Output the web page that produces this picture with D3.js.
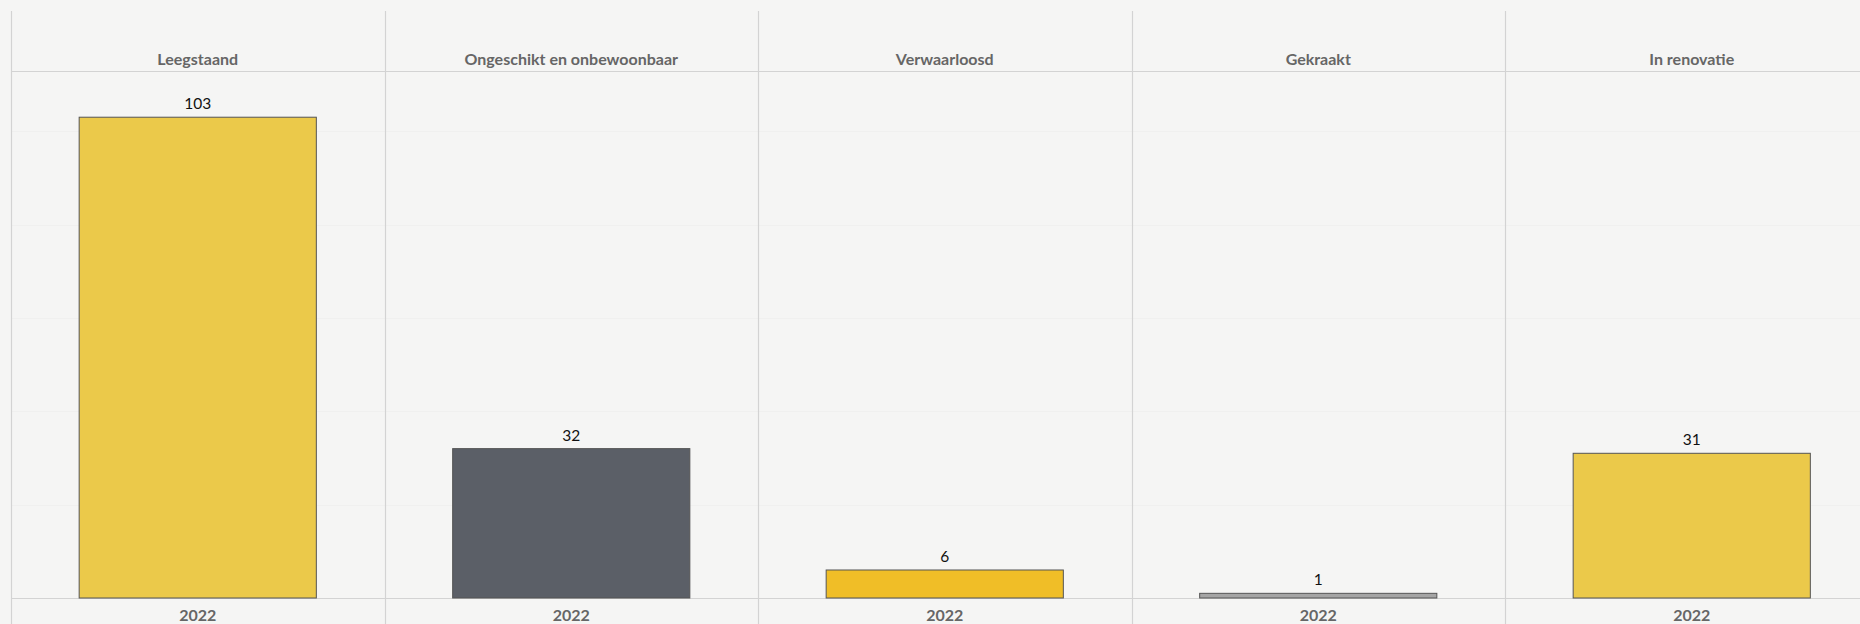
<!DOCTYPE html>
<html>
<head>
<meta charset="utf-8">
<script src="https://cdn.jsdelivr.net/npm/d3@7"></script>
<style>
  html, body { margin: 0; padding: 0; background: #f5f5f4; overflow: hidden; }
  svg { display: block; }
</style>
</head>
<body>
<div id="chart"></div>
<script>
var categories = ["Leegstaand", "Ongeschikt en onbewoonbaar", "Verwaarloosd", "Gekraakt", "In renovatie"];
var values = [103, 32, 6, 1, 31];
var years = ["2022", "2022", "2022", "2022", "2022"];
var barColors = ["#ebc94a", "#5b5f67", "#f0be27", "#a5a5a5", "#ebc94a"];
var gridTicks = [20, 40, 60, 80, 100];

var svgWidth = 1860;
var svgHeight = 624;
var marginLeft = 11, marginTop = 11;
var headerBottom = 71;
var baseline = 598;
var panelWidth = 373.5;

var svg = d3.select("#chart")
  .append("svg")
  .attr("width", svgWidth)
  .attr("height", svgHeight);

svg.append("rect")
  .attr("width", svgWidth)
  .attr("height", svgHeight)
  .attr("fill", "#f5f5f4");

// one panel per category
var xScale = d3.scaleBand()
  .domain(categories)
  .range([marginLeft, marginLeft + panelWidth * categories.length])
  .paddingInner(0)
  .paddingOuter(0);

var yScale = d3.scaleLinear()
  .domain([0, 112.9])
  .range([baseline, headerBottom]);

var barFrac = 0.635;

// faint horizontal gridlines
svg.append("g")
  .selectAll("line")
  .data(gridTicks)
  .enter()
  .append("line")
  .attr("x1", marginLeft)
  .attr("x2", svgWidth)
  .attr("y1", d => Math.round(yScale(d)) + 0.5)
  .attr("y2", d => Math.round(yScale(d)) + 0.5)
  .attr("stroke", "#f0f0ef")
  .attr("stroke-width", 1);

// panel separators
svg.append("g")
  .selectAll("line")
  .data(categories)
  .enter()
  .append("line")
  .attr("x1", d => Math.round(xScale(d)) + 0.5)
  .attr("x2", d => Math.round(xScale(d)) + 0.5)
  .attr("y1", marginTop)
  .attr("y2", svgHeight)
  .attr("stroke", "#d3d3d3")
  .attr("stroke-width", 1.2);

// header and baseline rules
[headerBottom, baseline].forEach(function(y) {
  svg.append("line")
    .attr("x1", marginLeft)
    .attr("x2", svgWidth)
    .attr("y1", y + 0.5)
    .attr("y2", y + 0.5)
    .attr("stroke", "#d3d3d3")
    .attr("stroke-width", 1.2);
});

// bars
svg.append("g")
  .selectAll("rect")
  .data(values)
  .enter()
  .append("rect")
  .attr("x", (d, i) => xScale(categories[i]) + xScale.bandwidth() * (1 - barFrac) / 2)
  .attr("width", xScale.bandwidth() * barFrac)
  .attr("y", d => yScale(d))
  .attr("height", d => yScale(0) - yScale(d))
  .attr("fill", (d, i) => barColors[i])
  .attr("stroke", "#555555")
  .attr("stroke-width", 1);

// value labels
svg.append("g")
  .selectAll("text")
  .data(values)
  .enter()
  .append("text")
  .attr("x", (d, i) => xScale(categories[i]) + xScale.bandwidth() / 2)
  .attr("y", d => yScale(d) - 8)
  .attr("text-anchor", "middle")
  .style("font-family", "Lato, 'Open Sans', sans-serif")
  .style("font-size", "15.5px")
  .style("fill", "#111")
  .text(d => d);

// category headers
svg.append("g")
  .selectAll("text")
  .data(categories)
  .enter()
  .append("text")
  .attr("x", d => xScale(d) + xScale.bandwidth() / 2)
  .attr("y", 65)
  .attr("text-anchor", "middle")
  .style("font-family", "Lato, 'Open Sans', sans-serif")
  .style("font-size", "16px")
  .style("font-weight", "bold")
  .style("fill", "#666")
  .text(d => d);

// year labels along the bottom
svg.append("g")
  .selectAll("text")
  .data(years)
  .enter()
  .append("text")
  .attr("x", (d, i) => xScale(categories[i]) + xScale.bandwidth() / 2)
  .attr("y", 621)
  .attr("text-anchor", "middle")
  .style("font-family", "Lato, 'Open Sans', sans-serif")
  .style("font-size", "16px")
  .style("font-weight", "bold")
  .style("fill", "#666")
  .text(d => d);
</script>
</body>
</html>
